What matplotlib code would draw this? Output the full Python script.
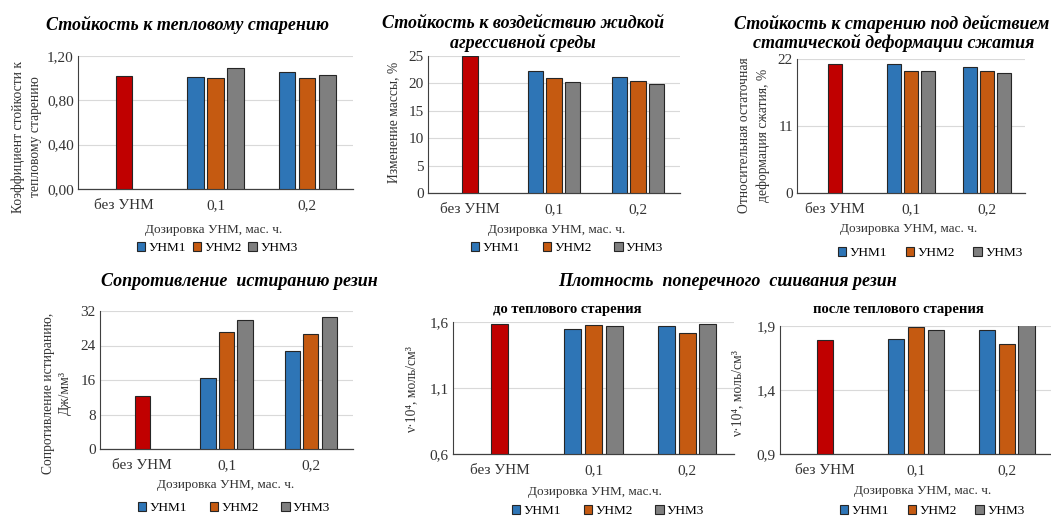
import matplotlib
matplotlib.use("Agg")
import matplotlib.pyplot as plt
import numpy as np

W, H = 1051, 519

categories = ["без УНМ", "0,1", "0,2"]
series_names = ["УНМ1", "УНМ2", "УНМ3"]

# Стойкость к тепловому старению
heat_base = 1.02
heat = [[1.01, 1.06], [1.00, 1.00], [1.09, 1.03]]

# Стойкость к воздействию жидкой агрессивной среды
liquid_base = 25.0
liquid = [[22.3, 21.2], [20.9, 20.5], [20.3, 19.8]]

# Стойкость к старению под действием статической деформации сжатия
compr_base = 21.2
compr = [[21.2, 20.7], [20.1, 20.1], [20.0, 19.7]]

# Сопротивление истиранию резин
abras_base = 12.4
abras = [[16.4, 22.7], [27.2, 26.6], [29.8, 30.5]]

# Плотность поперечного сшивания: до / после теплового старения
dens_before_base = 1.585
dens_before = [[1.55, 1.57], [1.575, 1.52], [1.57, 1.585]]
dens_after_base = 1.79
dens_after = [[1.80, 1.87], [1.89, 1.76], [1.87, 1.92]]

BASE_COLOR = "#C00000"
COLORS = ["#2E75B6", "#C55A11", "#7F7F7F"]
SERIF = ["Liberation Serif", "DejaVu Serif"]
plt.rcParams["font.family"] = SERIF


def box(l, r, t, b):
    return [l / W, 1 - b / H, (r - l) / W, (b - t) / H]


def ftext(x, y, s, **kw):
    fig.text(x / W, 1 - y / H, s, ha="center", va="center", **kw)


def panel(rect, base, vals, yticks, ylabels, ymin, ymax, legend_xy, colsp):
    ax = fig.add_axes(box(*rect))
    w, pitch = 0.18, 0.22
    ax.bar(0, base - ymin, w, bottom=ymin, color=BASE_COLOR,
           edgecolor="#262626", lw=0.8, zorder=3)
    x = np.array([1, 2])
    handles = []
    for i, v in enumerate(vals):
        b = ax.bar(x + (i - 1) * pitch, np.array(v) - ymin, w, bottom=ymin,
                   color=COLORS[i], edgecolor="#262626", lw=0.8, zorder=3)
        handles.append(b)
    ax.set_xlim(-0.5, 2.5)
    ax.set_ylim(ymin, ymax)
    ax.set_yticks(yticks)
    ax.set_yticklabels(ylabels)
    ax.set_xticks([0, 1, 2])
    ax.set_xticklabels(categories)
    ax.tick_params(length=0, labelsize=11, colors="#333333", pad=3)
    ax.tick_params(axis="x", pad=7)
    ax.grid(axis="y", color="#D9D9D9", lw=0.8, zorder=0)
    for s in ["top", "right"]:
        ax.spines[s].set_visible(False)
    ax.spines["left"].set_color("#404040")
    ax.spines["bottom"].set_color("#404040")
    ax.spines["left"].set_linewidth(0.8)
    ax.spines["bottom"].set_linewidth(0.9)
    ax.legend(handles, series_names, loc="center",
              bbox_to_anchor=(legend_xy[0] / W, 1 - legend_xy[1] / H),
              bbox_transform=fig.transFigure, ncol=3, frameon=False,
              fontsize=9.5, handlelength=0.65, handleheight=0.65,
              handletextpad=0.25, columnspacing=colsp, borderpad=0)
    return ax


fig = plt.figure(figsize=(W / 100, H / 100), dpi=100)
fig.patch.set_facecolor("white")

title_kw = dict(fontsize=13, fontweight="bold", fontstyle="italic", color="black")
lab_kw = dict(fontsize=9.5, color="#333333")
ylab_kw = dict(fontsize=9.8, color="#333333", rotation=90, linespacing=1.45)

# panel 1
panel((78, 353, 56, 189), heat_base, heat, [0, 0.4, 0.8, 1.2],
      ["0,00", "0,40", "0,80", "1,20"], 0, 1.2, (217, 248), 0.5)
ftext(188, 25, "Стойкость к тепловому старению", **title_kw)
ftext(214, 230, "Дозировка УНМ, мас. ч.", **lab_kw)
ftext(27, 137, "Коэффициент стойкости к\nтепловому старению", **ylab_kw)

# panel 2
panel((428, 680, 56, 193), liquid_base, liquid, [0, 5, 10, 15, 20, 25],
      ["0", "5", "10", "15", "20", "25"], 0, 25, (567, 248), 1.7)
ftext(523, 23, "Стойкость к воздействию жидкой", **title_kw)
ftext(523, 43, "агрессивной среды", **title_kw)
ftext(557, 230, "Дозировка УНМ, мас. ч.", **lab_kw)
ftext(394, 122, "Изменение массы, %", **ylab_kw)

# panel 3
panel((797, 1025, 59, 193), compr_base, compr, [0, 11, 22],
      ["0", "11", "22"], 0, 22, (930, 253), 1.4)
ftext(892, 24, "Стойкость к старению под действием", **title_kw)
ftext(894, 43, "статической деформации сжатия", **title_kw)
ftext(909, 229, "Дозировка УНМ, мас. ч.", **lab_kw)
ftext(754, 135, "Относительная остаточная\nдеформация сжатия, %", **ylab_kw)

# panel 4
panel((100, 353, 311, 449), abras_base, abras, [0, 8, 16, 24, 32],
      ["0", "8", "16", "24", "32"], 0, 32, (234, 508), 1.7)
ftext(239, 282, "Сопротивление  истиранию резин", **title_kw)
ftext(226, 485, "Дозировка УНМ, мас. ч.", **lab_kw)
ftext(57, 393, "Сопротивление истиранию,\nДж/мм³", **ylab_kw)

# panel 5
panel((453, 734, 322, 454), dens_before_base, dens_before, [0.6, 1.1, 1.6],
      ["0,6", "1,1", "1,6"], 0.6, 1.6, (608, 511), 1.7)
ftext(728, 282, "Плотность  поперечного  сшивания резин", **title_kw)
ftext(567, 310, "до теплового старения", fontsize=10.5, fontweight="bold")
ftext(595, 492, "Дозировка УНМ, мас.ч.", **lab_kw)
ftext(412, 390, "ν·10⁴, моль/см³", **ylab_kw)

# panel 6
panel((780, 1052, 326, 454), dens_after_base, dens_after, [0.9, 1.4, 1.9],
      ["0,9", "1,4", "1,9"], 0.9, 1.9, (932, 511), 1.4)
ftext(898, 310, "после теплового старения", fontsize=10.5, fontweight="bold")
ftext(923, 491, "Дозировка УНМ, мас. ч.", **lab_kw)
ftext(738, 394, "ν·10⁴, моль/см³", **ylab_kw)

fig.savefig("out.png", dpi=100)
